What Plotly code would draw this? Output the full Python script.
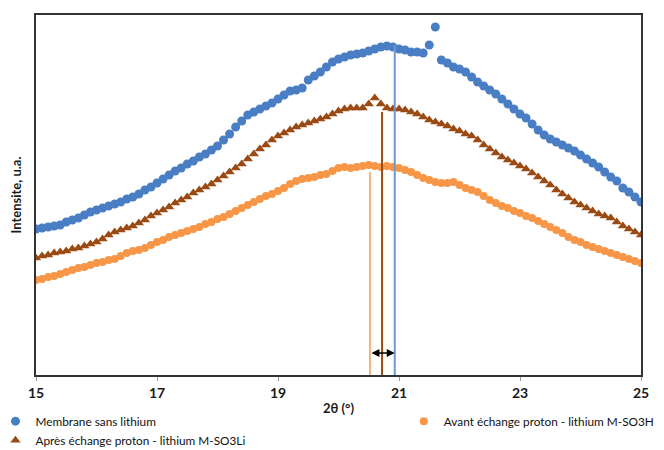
import numpy as np
import plotly.graph_objects as go

# 2theta sampling positions (deg)
two_theta = np.round(np.arange(15.0, 25.0001, 0.1), 1).tolist()

# Intensities (arbitrary units)
membrane_sans_li = [
    146, 147, 148, 149, 150, 153, 155, 157, 160, 163,
    165, 167, 169, 171, 173, 176, 178, 181, 185, 188,
    192, 196, 200, 204, 207, 211, 214, 218, 221, 225,
    229, 235, 241, 248, 254, 260, 263, 266, 269, 272,
    276, 280, 284, 285, 287, 295, 299, 303, 308, 313,
    316, 318, 320, 321, 322, 324, 326, 328, 329, 328,
    326, 325, 323, 323, 322, 330, 348, 315, 312, 308,
    306, 303, 298, 293, 289, 285, 281, 276, 271, 266,
    261, 257, 251, 245, 240, 236, 233, 230, 227, 224,
    220, 216, 212, 208, 203, 198, 194, 187, 183, 178,
    173]

avant_so3h = [
    95, 96, 98, 99, 101, 103, 105, 107, 108, 110,
    112, 113, 115, 116, 119, 122, 124, 125, 127, 130,
    133, 135, 138, 140, 142, 144, 146, 148, 151, 153,
    156, 158, 161, 164, 167, 170, 173, 176, 179, 181,
    184, 187, 191, 194, 196, 197, 198, 200, 201, 204,
    207, 208, 207, 208, 209, 210, 209, 208, 209, 208,
    207, 205, 203, 200, 197, 195, 193, 192, 192, 193,
    190, 187, 185, 183, 179, 175, 172, 169, 167, 164,
    162, 159, 157, 154, 151, 148, 145, 142, 138, 135,
    133, 130, 128, 126, 124, 122, 120, 118, 116, 114,
    112]

apres_so3li = [
    117, 119, 120, 122, 123, 124, 126, 127, 129, 131,
    133, 136, 140, 143, 145, 147, 149, 152, 155, 159,
    162, 165, 168, 172, 175, 178, 182, 185, 188, 191,
    195, 199, 203, 207, 211, 216, 221, 226, 230, 235,
    239, 242, 245, 248, 250, 252, 254, 256, 258, 261,
    264, 266, 267, 267, 267, 271, 277, 271, 267, 266,
    266, 265, 263, 261, 258, 255, 253, 251, 249, 246,
    244, 241, 239, 235, 230, 226, 222, 218, 215, 212,
    209, 206, 202, 198, 194, 190, 185, 181, 177, 173,
    170, 167, 164, 161, 159, 157, 153, 149, 146, 143,
    140]

# Peak markers: positions (deg) and line tops (a.u.) for orange, brown, blue
peak_pos = [20.52, 20.72, 20.93]
peak_top = [203, 263, 330]
peak_colors = ["#F0B47E", "#9A4A16", "#6F98CF"]
arrow_level = 22

x_ticks = [15, 17, 19, 21, 23, 25]

BLUE = "#4A7EC4"
ORANGE = "#F79646"
BROWN = "#9A4A12"

fig = go.Figure()
fig.add_trace(go.Scatter(
    x=two_theta, y=membrane_sans_li, mode="markers", name="Membrane sans lithium",
    marker=dict(symbol="circle", size=9, color=BLUE), legend="legend"))
fig.add_trace(go.Scatter(
    x=two_theta, y=apres_so3li, mode="markers", name="Après échange proton - lithium M-SO3Li",
    marker=dict(symbol="triangle-up", size=9, color=BROWN), legend="legend"))
fig.add_trace(go.Scatter(
    x=two_theta, y=avant_so3h, mode="markers", name="Avant échange proton - lithium M-SO3H",
    marker=dict(symbol="circle", size=8, color=ORANGE), legend="legend2"))

for xp, top, col in zip(peak_pos, peak_top, peak_colors):
    fig.add_trace(go.Scatter(x=[xp, xp], y=[0, top], mode="lines",
                             line=dict(color=col, width=2), showlegend=False,
                             hoverinfo="skip"))

fig.add_annotation(x=peak_pos[2], y=arrow_level, ax=peak_pos[0], ay=arrow_level,
                   xref="x", yref="y", axref="x", ayref="y", text="",
                   showarrow=True, arrowhead=2, arrowside="end+start",
                   arrowsize=1, arrowwidth=1.6, arrowcolor="#000000")

FONT = "Lato, 'Open Sans', sans-serif"

# The page body adds an 8px offset, so the figure is 8px smaller than the window
fig.update_layout(
    width=656, height=442,
    margin=dict(l=28, r=23, t=7, b=75, autoexpand=False),
    plot_bgcolor="white", paper_bgcolor="white",
    font=dict(family=FONT, size=13, color="#1a1a1a"),
    xaxis=dict(range=[15, 25], tickvals=x_ticks, ticktext=[str(t) for t in x_ticks],
               showgrid=False, zeroline=False, showline=True, mirror=True,
               linecolor="#333333", linewidth=1.5, ticks="outside", ticklen=4,
               tickcolor="#999999", tickfont=dict(size=14, family=FONT, weight="bold"),
               title=dict(text="<b>2θ (°)</b>", font=dict(size=13), standoff=4)),
    yaxis=dict(range=[0, 360], showticklabels=False, ticks="", showgrid=False,
               zeroline=False, showline=True, mirror=True, linecolor="#333333",
               linewidth=1.5,
               title=dict(text="<b>Intensite, u.a.</b>", font=dict(size=13), standoff=12)),
    legend=dict(x=-0.067, y=-0.088, xanchor="left", yanchor="top", orientation="v",
                font=dict(size=11.8, color="#111111"), tracegroupgap=0, itemwidth=30,
                bgcolor="rgba(0,0,0,0)"),
    legend2=dict(x=0.608, y=-0.088, xanchor="left", yanchor="top", orientation="v",
                 font=dict(size=11.8, color="#111111"), itemwidth=30,
                 bgcolor="rgba(0,0,0,0)"),
)

fig.write_html("out.html")
